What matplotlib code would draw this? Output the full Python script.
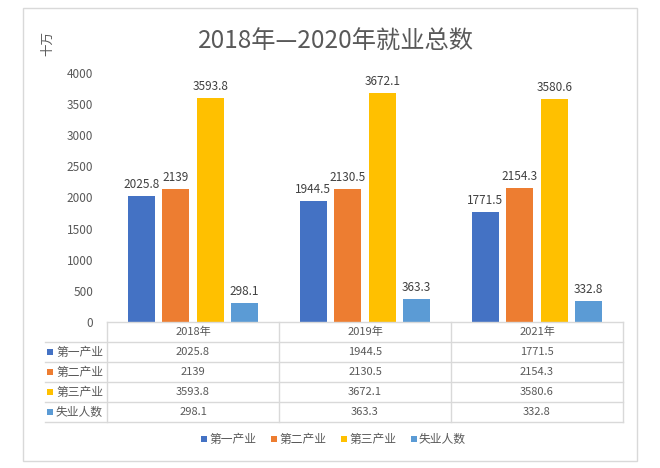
import matplotlib
matplotlib.use("Agg")
import matplotlib.pyplot as plt
from matplotlib.patches import Rectangle
from matplotlib.lines import Line2D
import numpy as np

plt.rcParams['font.family'] = ['Noto Sans CJK SC', 'DejaVu Sans']

categories = ['2018年', '2019年', '2021年']
series_names = ['第一产业', '第二产业', '第三产业', '失业人数']
s1 = [2025.8, 1944.5, 1771.5]
s2 = [2139, 2130.5, 2154.3]
s3 = [3593.8, 3672.1, 3580.6]
s4 = [298.1, 363.3, 332.8]
series = [s1, s2, s3, s4]
label_texts = [['2025.8', '1944.5', '1771.5'],
               ['2139', '2130.5', '2154.3'],
               ['3593.8', '3672.1', '3580.6'],
               ['298.1', '363.3', '332.8']]
colors = ['#4472C4', '#ED7D31', '#FFC000', '#5B9BD5']
yticks = [0, 500, 1000, 1500, 2000, 2500, 3000, 3500, 4000]

W, H = 660, 468
fig = plt.figure(figsize=(W/100, H/100), dpi=100)

def fx(px):
    return px / W

def fy(py):
    return 1 - py / H

# outer frame
fig.patches.append(Rectangle((fx(23), fy(461)), fx(637) - fx(23), fy(8) - fy(461),
                             transform=fig.transFigure, fill=False,
                             edgecolor='#D9D9D9', linewidth=1))

ax_left, ax_right, ax_top, ax_bot = 107, 623, 73, 322
ax = fig.add_axes([fx(ax_left), fy(ax_bot), fx(ax_right) - fx(ax_left), fy(ax_top) - fy(ax_bot)])
ax.set_xlim(-0.5, len(categories) - 0.5)
ax.set_ylim(0, 4000)
x = np.arange(len(categories))
bw = 0.157
step = 0.2
for i, (vals, c) in enumerate(zip(series, colors)):
    off = (i - 1.5) * step
    ax.bar(x + off, vals, width=bw, color=c, zorder=2)
    for xi, v, t in zip(x, vals, label_texts[i]):
        ax.text(xi + off, v + 80, t, ha='center', va='bottom', fontsize=8.5, color='#404040')
for sp in ax.spines.values():
    sp.set_visible(False)
ax.set_xticks([])
ax.set_yticks(yticks)
ax.set_yticklabels([str(t) for t in yticks], fontsize=8.5, color='#595959')
ax.tick_params(axis='y', length=0, pad=10)
ax.patch.set_alpha(0)

# data table
line_c = '#D9D9D9'
row_y = [322, 342, 362, 382, 402, 422]
col_x = [107, 279, 451, 623]
label_left = 45
fig.add_artist(Line2D([fx(107), fx(623)], [fy(322), fy(322)], transform=fig.transFigure, color=line_c, lw=1))
for yy in row_y[1:]:
    fig.add_artist(Line2D([fx(label_left), fx(623)], [fy(yy), fy(yy)], transform=fig.transFigure, color=line_c, lw=1))
for xx in col_x:
    fig.add_artist(Line2D([fx(xx), fx(xx)], [fy(322), fy(422)], transform=fig.transFigure, color=line_c, lw=1))

for j, cat in enumerate(categories):
    cx = (col_x[j] + col_x[j + 1]) / 2
    fig.text(fx(cx), fy(332), cat, ha='center', va='center', fontsize=8, color='#595959')
for i, name in enumerate(series_names):
    cy = (row_y[i + 1] + row_y[i + 2]) / 2
    fig.patches.append(Rectangle((fx(47), fy(cy + 3)), fx(6), 6 / H, transform=fig.transFigure,
                                 facecolor=colors[i], edgecolor='none'))
    fig.text(fx(56), fy(cy), name, ha='left', va='center', fontsize=8.5, color='#595959')
    for j in range(len(categories)):
        cx = (col_x[j] + col_x[j + 1]) / 2
        fig.text(fx(cx), fy(cy), label_texts[i][j], ha='center', va='center', fontsize=8, color='#595959')

# legend
leg_x = [201, 271, 341, 411]
for i, name in enumerate(series_names):
    fig.patches.append(Rectangle((fx(leg_x[i]), fy(442)), fx(6), 6 / H, transform=fig.transFigure,
                                 facecolor=colors[i], edgecolor='none'))
    fig.text(fx(leg_x[i] + 8), fy(439), name, ha='left', va='center', fontsize=8.5, color='#595959')

# title and unit
fig.text(fx(336), fy(42), '2018年—2020年就业总数', ha='center', va='center', fontsize=17.5,
         color='#595959', fontweight='light')
fig.text(fx(48), fy(43), '十万', ha='center', va='center', rotation=90, fontsize=9, color='#595959')

fig.savefig('out.png', dpi=100)
